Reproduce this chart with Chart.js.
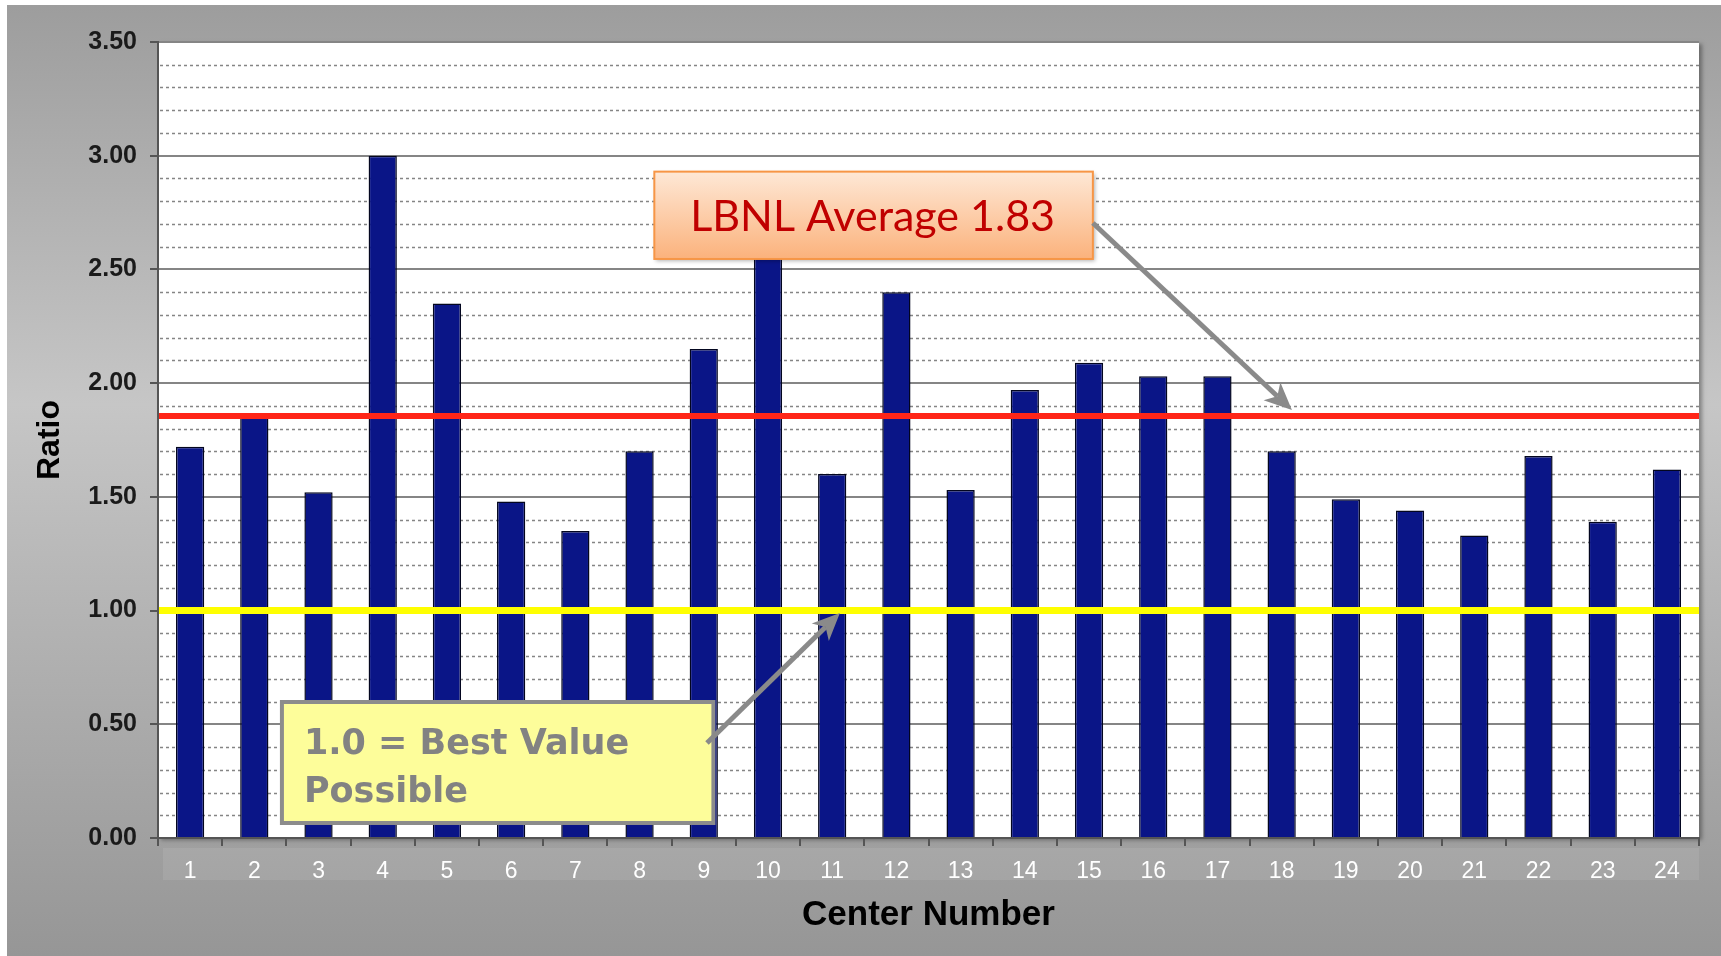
<!DOCTYPE html>
<html>
<head>
<meta charset="utf-8">
<script src="https://cdn.jsdelivr.net/npm/chart.js@4/dist/chart.umd.min.js"></script>
<style>
  html, body { margin: 0; padding: 0; background: #fff; }
  canvas { display: block; }
</style>
</head>
<body>
<canvas id="ratioChart" width="1721" height="956"></canvas>
<script>
// ---------------- data ----------------
const centers = ["1", "2", "3", "4", "5", "6", "7", "8", "9", "10", "11", "12",
                 "13", "14", "15", "16", "17", "18", "19", "20", "21", "22", "23", "24"];
const ratios = [1.72, 1.85, 1.52, 3.00, 2.35, 1.48, 1.35, 1.70, 2.15, 2.60, 1.60, 2.40,
                1.53, 1.97, 2.09, 2.03, 2.03, 1.70, 1.49, 1.44, 1.33, 1.68, 1.39, 1.62];
const yMin = 0;
const yMax = 3.5;
const yMajorStep = 0.5;
const yMinorStep = 0.1;
const averageLine = 1.855;   // where the red line sits in the picture
const bestLine = 1.0;
const averageText = "LBNL Average 1.83";
const bestText = ["1.0 = Best Value", "Possible"];

// ---------------- background / grid / annotation plugin ----------------
const decor = {
  id: "decor",
  beforeDraw(chart) {
    const ctx = chart.ctx;
    const a = chart.chartArea;
    const W = chart.width, H = chart.height;
    ctx.save();
    // gray frame
    const g = ctx.createLinearGradient(0, 5, 0, H);
    g.addColorStop(0, "#9d9d9d");
    g.addColorStop(0.42, "#c6c6c6");
    g.addColorStop(1, "#969696");
    ctx.fillStyle = g;
    ctx.fillRect(7, 5, W - 7, H - 5);
    // light band behind x labels
    ctx.fillStyle = "rgba(255,255,255,0.09)";
    ctx.fillRect(a.left + 5, a.bottom + 10, a.right - a.left - 5, 32);
    // white plot area with a soft shadow
    ctx.shadowColor = "rgba(0,0,0,0.35)";
    ctx.shadowBlur = 4;
    ctx.shadowOffsetX = 3;
    ctx.shadowOffsetY = 2;
    ctx.fillStyle = "#fff";
    ctx.fillRect(a.left, a.top, a.right - a.left, a.bottom - a.top);
    ctx.restore();
  },
  beforeDatasetsDraw(chart) {
    // dotted minor grid lines every 0.1
    const ctx = chart.ctx;
    const a = chart.chartArea;
    const y = chart.scales.y;
    ctx.save();
    ctx.strokeStyle = "#858585";
    ctx.lineWidth = 1.5;
    ctx.setLineDash([3, 3]);
    const n = Math.round((yMax - yMin) / yMinorStep);
    for (let i = 1; i < n; i++) {
      if (i % 5 === 0) continue;
      const py = Math.round(y.getPixelForValue(yMin + i * yMinorStep)) + 0.5;
      ctx.beginPath();
      ctx.moveTo(a.left + 2, py);
      ctx.lineTo(a.right, py);
      ctx.stroke();
    }
    ctx.restore();
  },
  afterDatasetsDraw(chart) {
    const ctx = chart.ctx;
    const a = chart.chartArea;
    const y = chart.scales.y;
    ctx.save();
    ctx.lineWidth = 6;
    ctx.strokeStyle = "#ff2618";
    let py = y.getPixelForValue(averageLine);
    ctx.beginPath(); ctx.moveTo(a.left + 1, py); ctx.lineTo(a.right, py); ctx.stroke();
    ctx.lineWidth = 7;
    ctx.strokeStyle = "#ffff00";
    py = y.getPixelForValue(bestLine);
    ctx.beginPath(); ctx.moveTo(a.left + 1, py); ctx.lineTo(a.right, py); ctx.stroke();
    ctx.restore();
  },
  afterDraw(chart) {
    const ctx = chart.ctx;
    const x = chart.scales.x, y = chart.scales.y;
    const px = v => x.getPixelForValue(v);
    const py = v => y.getPixelForValue(v);

    function arrow(x0, y0, x1, y1) {
      const ang = Math.atan2(y1 - y0, x1 - x0);
      const len = 30, back = 20, spread = 0.42;
      ctx.save();
      ctx.strokeStyle = "#8a8a8a";
      ctx.fillStyle = "#8a8a8a";
      ctx.lineWidth = 5;
      ctx.beginPath();
      ctx.moveTo(x0, y0);
      ctx.lineTo(x1 - Math.cos(ang) * back, y1 - Math.sin(ang) * back);
      ctx.stroke();
      ctx.beginPath();
      ctx.moveTo(x1, y1);
      ctx.lineTo(x1 - Math.cos(ang - spread) * len, y1 - Math.sin(ang - spread) * len);
      ctx.lineTo(x1 - Math.cos(ang) * back, y1 - Math.sin(ang) * back);
      ctx.lineTo(x1 - Math.cos(ang + spread) * len, y1 - Math.sin(ang + spread) * len);
      ctx.closePath();
      ctx.fill();
      ctx.restore();
    }

    // LBNL average callout
    const bx0 = px(7.23), bx1 = px(14.06), by0 = py(2.93), by1 = py(2.546);
    ctx.save();
    ctx.shadowColor = "rgba(0,0,0,0.3)";
    ctx.shadowBlur = 4;
    ctx.shadowOffsetX = 2;
    ctx.shadowOffsetY = 2;
    const og = ctx.createLinearGradient(0, by0, 0, by1);
    og.addColorStop(0, "#fee8d6");
    og.addColorStop(1, "#fbb27c");
    ctx.fillStyle = og;
    ctx.fillRect(bx0, by0, bx1 - bx0, by1 - by0);
    ctx.restore();
    ctx.save();
    ctx.strokeStyle = "#f79646";
    ctx.lineWidth = 2;
    ctx.strokeRect(bx0, by0, bx1 - bx0, by1 - by0);
    ctx.fillStyle = "#c00000";
    ctx.font = "43px Lato";
    ctx.textAlign = "center";
    ctx.textBaseline = "alphabetic";
    ctx.fillText(averageText, (bx0 + bx1) / 2 - 1, (by0 + by1) / 2 + 16);
    ctx.restore();
    arrow(px(14.06), py(2.704), px(17.16), py(1.882));

    // best value callout
    const cx0 = px(1.43), cx1 = px(8.15), cy0 = py(0.598), cy1 = py(0.066);
    ctx.save();
    ctx.fillStyle = "#fdfd9a";
    ctx.fillRect(cx0, cy0, cx1 - cx0, cy1 - cy0);
    ctx.strokeStyle = "#8c8c8c";
    ctx.lineWidth = 4;
    ctx.strokeRect(cx0, cy0, cx1 - cx0, cy1 - cy0);
    ctx.fillStyle = "#828282";
    ctx.font = "bold 35px 'DejaVu Sans'";
    ctx.textAlign = "left";
    ctx.textBaseline = "alphabetic";
    ctx.fillText(bestText[0], cx0 + 22, cy0 + 52);
    ctx.fillText(bestText[1], cx0 + 22, cy0 + 100);
    ctx.restore();
    arrow(px(8.05), py(0.418), px(10.12), py(0.989));
  }
};

// ---------------- chart ----------------
new Chart(document.getElementById("ratioChart"), {
  type: "bar",
  data: {
    labels: centers,
    datasets: [{
      label: "Ratio",
      data: ratios,
      backgroundColor: "#0a1587",
      borderColor: "#03061f",
      borderWidth: 1.5,
      barPercentage: 0.44,
      categoryPercentage: 1.0
    }]
  },
  options: {
    responsive: false,
    animation: false,
    layout: { padding: { top: 42, right: 22, left: 0, bottom: 0 } },
    plugins: {
      legend: { display: false },
      tooltip: { enabled: false }
    },
    scales: {
      x: {
        grid: {
          drawOnChartArea: false,
          drawTicks: true,
          tickLength: 8,
          color: "#555",
          lineWidth: 2
        },
        border: { color: "#555", width: 2 },
        ticks: {
          color: "#fff",
          font: { family: "'Liberation Sans', Arial", size: 23 },
          padding: 12,
          maxRotation: 0,
          autoSkip: false
        },
        title: {
          display: true,
          text: "Center Number",
          color: "#000",
          font: { family: "'Liberation Sans', Arial", size: 35, weight: "bold" },
          padding: { top: 0, bottom: 20 }
        },
        afterFit(scale) { scale.height = 118; }
      },
      y: {
        min: yMin,
        max: yMax,
        grid: {
          color: "#858585",
          lineWidth: 2,
          tickLength: 8,
          tickColor: "#555"
        },
        border: { color: "#555", width: 2 },
        ticks: {
          stepSize: yMajorStep,
          color: "#1a1a1a",
          font: { family: "'Liberation Sans', Arial", size: 25, weight: "bold" },
          padding: 13,
          callback: v => Number(v).toFixed(2)
        },
        title: {
          display: true,
          text: "Ratio",
          color: "#000",
          font: { family: "'Liberation Sans', Arial", size: 32, weight: "bold" },
          padding: { top: 31, bottom: 0 }
        },
        afterFit(scale) { scale.width = 158; }
      }
    }
  },
  plugins: [decor]
});
</script>
</body>
</html>
